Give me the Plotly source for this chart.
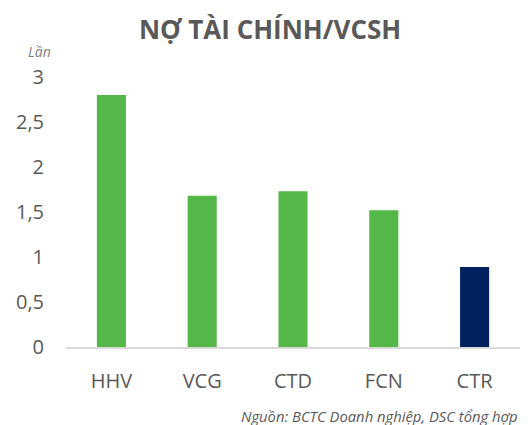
import plotly.graph_objects as go

categories = ["HHV", "VCG", "CTD", "FCN", "CTR"]
values = [2.80, 1.68, 1.73, 1.52, 0.89]
colors = ["#53B848", "#53B848", "#53B848", "#53B848", "#002060"]
tick_vals = [0, 0.5, 1, 1.5, 2, 2.5, 3]
tick_text = ["0", "0,5", "1", "1,5", "2", "2,5", "3"]

fig = go.Figure(go.Bar(x=categories, y=values, marker_color=colors, width=0.32,
                       marker_line_width=0, hoverinfo="skip"))

fig.update_layout(
    width=520, height=417,
    margin=dict(l=55, r=8, t=69, b=78),
    paper_bgcolor="white", plot_bgcolor="white",
    font=dict(family="Open Sans", color="#595959"),
    showlegend=False,
    title=dict(text="<b>NỢ TÀI CHÍNH/VCSH</b>", x=0.504, xanchor="center", y=0.947, yanchor="middle",
               font=dict(size=26, color="#595959", family="Open Sans")),
    xaxis=dict(showline=True, linecolor="#D9D9D9", linewidth=1.5, ticks="",
               tickfont=dict(size=20, color="#595959"), ticklabelstandoff=15, fixedrange=True),
    yaxis=dict(range=[0, 3], tickvals=tick_vals, ticktext=tick_text, showgrid=False, zeroline=False,
               showline=False, tickfont=dict(size=20, color="#595959"), ticklabelstandoff=21, fixedrange=True),
    annotations=[
        dict(text="<i>Lần</i>", xref="paper", yref="paper", x=-0.028, y=1.096, xanchor="right", yanchor="middle",
             showarrow=False, font=dict(size=14, color="#7F7F7F")),
        dict(text="<i>Nguồn: BCTC Doanh nghiệp, DSC tổng hợp</i>", xref="paper", yref="paper",
             x=1.0, y=-0.2556, xanchor="right", yanchor="middle", showarrow=False,
             font=dict(size=14.8, color="#595959")),
    ],
)

fig.write_html("out.html")
